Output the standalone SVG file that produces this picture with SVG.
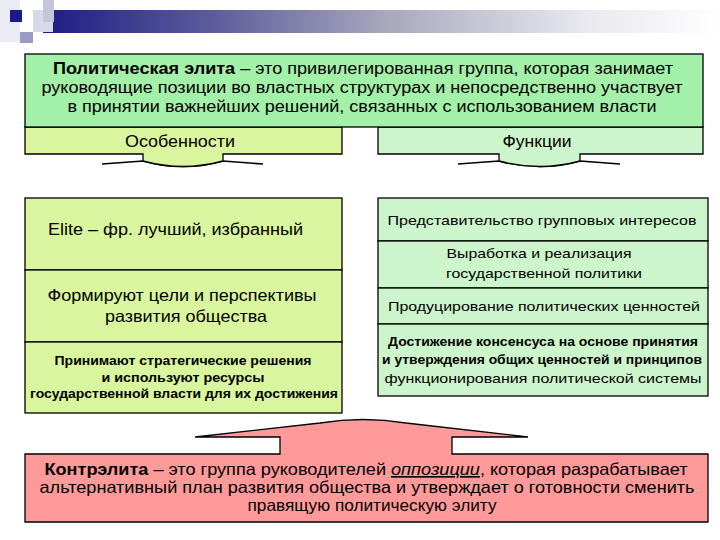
<svg xmlns="http://www.w3.org/2000/svg" width="720" height="540" viewBox="0 0 720 540">
<style>
text{font-family:"Liberation Sans",Arial,sans-serif;fill:#000}
.box{stroke:#000;stroke-width:1.3}
.g1{fill:#a3f0a8}
.g2{fill:#d9f59e}
.g3{fill:#ccf5cc}
.r1{fill:#ff9a9a}
.ln{fill:none;stroke:#000;stroke-width:1.6}
.b{font-weight:bold}
</style>
<defs>
<linearGradient id="bar" x1="0" y1="0" x2="1" y2="0">
<stop offset="0" stop-color="#1c1c84"/>
<stop offset="0.25" stop-color="#5c5c9c"/>
<stop offset="0.5" stop-color="#a6a6bc"/>
<stop offset="0.8" stop-color="#e8e8ee"/>
<stop offset="1" stop-color="#ffffff"/>
</linearGradient>
</defs>
<rect width="720" height="540" fill="#fff"/>
<g id="header">
<rect x="0" y="0" width="20" height="42" fill="#ececf4"/>
<rect x="43" y="10" width="677" height="23" fill="url(#bar)"/>
<rect x="33" y="10" width="20" height="22" fill="#d8d8e8"/>
<rect x="43" y="0" width="11" height="22" fill="#c4c4dc"/>
<rect x="20" y="32" width="13" height="11" fill="#9a9ac8"/>
<rect x="10" y="10" width="12" height="12" fill="#1a1a8c"/>
</g>
<g id="connectors">
<path class="ln" d="M102,164 L143,161 Q183,172 223,161 L263,164"/>
<path class="ln" d="M458,164 L499,161 Q540,172 580,161 L620,164"/>
</g>
<g id="osobennosti">
<path class="box g2" d="M25,127 H342 V154 H223 V161 Q183,172 143,161 V154 H25 Z"/>
<text x="180" y="147" font-size="16" text-anchor="middle" textLength="110" lengthAdjust="spacingAndGlyphs">Особенности</text>
</g>
<g id="funkcii">
<path class="box g3" d="M378,127 H703 V154 H580 V161 Q540,172 499,161 V154 H378 Z"/>
<text x="537" y="147" font-size="16" text-anchor="middle" textLength="69" lengthAdjust="spacingAndGlyphs">Функции</text>
</g>
<g id="definition">
<rect class="box g1" x="25" y="54" width="678" height="73"/>
<text x="363" y="74" font-size="16" text-anchor="middle" textLength="620" lengthAdjust="spacingAndGlyphs"><tspan class="b">Политическая элита</tspan> – это привилегированная группа, которая занимает</text>
<text x="362" y="93" font-size="16" text-anchor="middle" textLength="641" lengthAdjust="spacingAndGlyphs">руководящие позиции во властных структурах и непосредственно участвует</text>
<text x="362" y="112" font-size="16" text-anchor="middle" textLength="589" lengthAdjust="spacingAndGlyphs">в принятии важнейших решений, связанных с использованием власти</text>
</g>
<g id="feature1">
<rect class="box g2" x="25" y="198" width="317" height="72"/>
<text x="48" y="235" font-size="16" textLength="255" lengthAdjust="spacingAndGlyphs">Elite – фр. лучший, избранный</text>
</g>
<g id="feature2">
<rect class="box g2" x="25" y="270" width="317" height="72"/>
<text x="182" y="301" font-size="16.5" text-anchor="middle" textLength="269" lengthAdjust="spacingAndGlyphs">Формируют цели и перспективы</text>
<text x="186" y="322" font-size="16.5" text-anchor="middle" textLength="162" lengthAdjust="spacingAndGlyphs">развития общества</text>
</g>
<g id="feature3">
<rect class="box g2" x="25" y="342" width="317" height="71"/>
<text x="183" y="365" font-size="12" class="b" text-anchor="middle" textLength="257" lengthAdjust="spacingAndGlyphs">Принимают стратегические решения</text>
<text x="183" y="382" font-size="12" class="b" text-anchor="middle" textLength="163" lengthAdjust="spacingAndGlyphs">и используют ресурсы</text>
<text x="184" y="398" font-size="12" class="b" text-anchor="middle" textLength="308" lengthAdjust="spacingAndGlyphs">государственной власти для их достижения</text>
</g>
<g id="function1">
<rect class="box g3" x="378" y="198" width="330" height="43"/>
<text x="542" y="225" font-size="13.5" text-anchor="middle" textLength="309" lengthAdjust="spacingAndGlyphs">Представительство групповых интересов</text>
</g>
<g id="function2">
<rect class="box g3" x="378" y="241" width="330" height="47"/>
<text x="539" y="258" font-size="13.5" text-anchor="middle" textLength="185" lengthAdjust="spacingAndGlyphs">Выработка и реализация</text>
<text x="544" y="278" font-size="13.5" text-anchor="middle" textLength="196" lengthAdjust="spacingAndGlyphs">государственной политики</text>
</g>
<g id="function3">
<rect class="box g3" x="378" y="288" width="330" height="36"/>
<text x="544" y="311" font-size="13.5" text-anchor="middle" textLength="312" lengthAdjust="spacingAndGlyphs">Продуцирование политических ценностей</text>
</g>
<g id="function4">
<rect class="box g3" x="378" y="324" width="330" height="72"/>
<text x="543" y="346" font-size="12" class="b" text-anchor="middle" textLength="310" lengthAdjust="spacingAndGlyphs">Достижение консенсуса на основе принятия</text>
<text x="542" y="364" font-size="12" class="b" text-anchor="middle" textLength="320" lengthAdjust="spacingAndGlyphs">и утверждения общих ценностей и принципов</text>
<text x="543" y="383" font-size="13.5" text-anchor="middle" textLength="317" lengthAdjust="spacingAndGlyphs">функционирования политической системы</text>
</g>
<g id="counterelite">
<path class="box r1" d="M25,454 H280 V437 H195 L320,423 Q363,416 406,423 L528,437 H452 V454 H708 V522 H25 Z"/>
<text x="366" y="475" font-size="16.5" text-anchor="middle" textLength="643" lengthAdjust="spacingAndGlyphs"><tspan class="b">Контрэлита</tspan> – это группа руководителей <tspan font-style="italic" text-decoration="underline">оппозиции</tspan>, которая разрабатывает</text>
<text x="367" y="493" font-size="16.5" text-anchor="middle" textLength="655" lengthAdjust="spacingAndGlyphs">альтернативный план развития общества и утверждает о готовности сменить</text>
<text x="372" y="511" font-size="16.5" text-anchor="middle" textLength="249" lengthAdjust="spacingAndGlyphs">правящую политическую элиту</text>
</g>
</svg>
